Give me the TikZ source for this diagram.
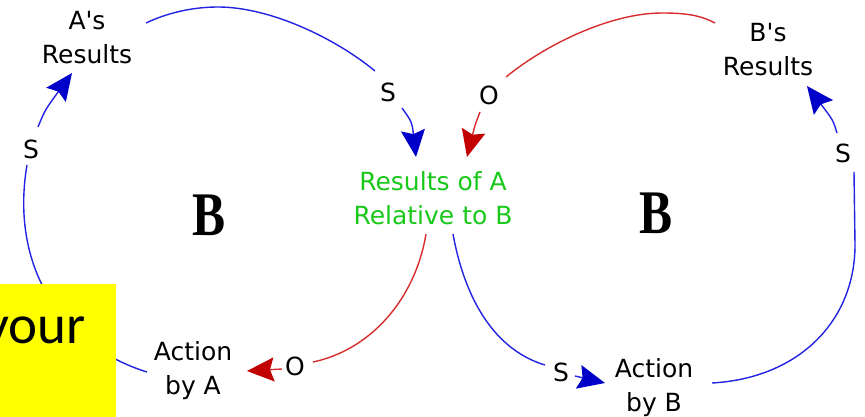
\documentclass[tikz,border=0pt]{standalone}
\usepackage{fontspec}
\newfontfamily\px{DejaVu Sans}
\newfontfamily\serifB{Liberation Serif}
\newfontfamily\calfont{Carlito}
\usetikzlibrary{arrows.meta}
\definecolor{lblue}{RGB}{35,35,225}
\definecolor{hblue}{RGB}{0,0,200}
\definecolor{lred}{RGB}{215,45,45}
\definecolor{hred}{RGB}{195,0,0}
\definecolor{tgreen}{RGB}{25,200,25}
\definecolor{notey}{RGB}{255,255,0}
\begin{document}
\begin{tikzpicture}[x=1pt,y=-1pt,
  txt/.style={inner sep=0pt,align=center,font=\px\fontsize{25}{34}\selectfont},
  pol/.style={inner sep=0pt,font=\px\fontsize{25}{34}\selectfont},
  loopname/.style={inner sep=0pt,font=\serifB\bfseries\fontsize{62}{62}\selectfont},
  bl/.style={draw=lblue,line width=1.4pt},
  rd/.style={draw=lred,line width=1.4pt},
  bltip/.style={-{Stealth[length=27pt,width=24pt,inset=4pt,color=hblue]}},
  rdtip/.style={-{Stealth[length=27pt,width=24pt,inset=4pt,color=hred]}},
]
\useasboundingbox (0,0) rectangle (865,417);
\fill[white] (0,0) rectangle (865,417);

% main nodes
\node[txt] (Ares) at (87,37.8) {A's\\Results};
\node[txt] (Bres) at (768,49.8) {B's\\Results};
\node[txt,text=tgreen] (RelA) at (433,198.5) {Results of A\\Relative to B};
\node[txt] (ActA) at (193,370.5) {Action\\by A};
\node[txt] (ActB) at (654,387.5) {Action\\by B};

% loop names
\node[loopname] (LoopA) at (209,215) {\scalebox{0.8}[1]{B}};
\node[loopname] (LoopB) at (656,213) {\scalebox{0.8}[1]{B}};

% polarity labels
\node[pol] (s1) at (388,92) {S};
\node[pol] (o1) at (489,95) {O};
\node[pol] (sR) at (843,153) {S};
\node[pol] (sB) at (561,372) {S};
\node[pol] (oB) at (295,366) {O};
\node[pol] (sL) at (31,149) {S};

% connector end points
\coordinate (c1s) at (146,23);  \coordinate (c1e) at (375,71);
\coordinate (c1f) at (402,108); \coordinate (t1) at (416,157);
\coordinate (c2s) at (715,23);  \coordinate (c2e) at (506,77);
\coordinate (c2f) at (480,112); \coordinate (t2) at (467,157);
\coordinate (c3s) at (712,383); \coordinate (c3m) at (855,245);
\coordinate (c3e) at (854,172); \coordinate (c3f) at (837,133);
\coordinate (t3) at (807,86);
\coordinate (c4s) at (426,234); \coordinate (c4e) at (313,362);
\coordinate (c4f) at (282,369); \coordinate (t4) at (247,371);
\coordinate (c5s) at (453,234); \coordinate (c5e) at (545,365);
\coordinate (c5f) at (575,376); \coordinate (t5) at (605,383);
\coordinate (c6s) at (147,372); \coordinate (c6e) at (27,165);
\coordinate (c6f) at (38,127);  \coordinate (t6) at (72,73);

% A's Results -> Results of A  (S)
\draw[bl] (c1s) .. controls (165,14) and (190,7) .. (218,7)
          .. controls (270,7) and (335,38) .. (c1e);
\draw[bl,bltip] (c1f) .. controls (412,122) .. (t1);

% B's Results -> Results of A  (O)
\draw[rd] (c2s) .. controls (700,15) and (685,13) .. (662,13)
          .. controls (610,13) and (545,45) .. (c2e);
\draw[rd,rdtip] (c2f) .. controls (475,125) .. (t2);

% Action by B -> B's Results  (S)
\draw[bl] (c3s) .. controls (800,378) and (855,320) .. (c3m) -- (c3e);
\draw[bl,bltip] (c3f) .. controls (833,120) .. (t3);

% Results of A -> Action by A  (O)
\draw[rd] (c4s) .. controls (415,300) and (370,350) .. (c4e);
\draw[rd,rdtip] (c4f) -- (t4);

% Results of A -> Action by B  (S)
\draw[bl] (c5s) .. controls (465,300) and (495,350) .. (c5e);
\draw[bl,bltip] (c5f) -- (t5);

% Action by A -> A's Results  (S)
\draw[bl] (c6s) .. controls (60,345) and (10,265) .. (c6e);
\draw[bl,bltip] (c6f) .. controls (45,110) .. (t6);

% yellow note
\fill[notey] (0,284) rectangle (116,417);
\begin{scope}
  \clip (0,284) rectangle (116,417);
  \node[inner sep=0pt,anchor=base west,font=\calfont\fontsize{55}{55}\selectfont] (your) at (-16,343) {your};
\end{scope}
\end{tikzpicture}
\end{document}
